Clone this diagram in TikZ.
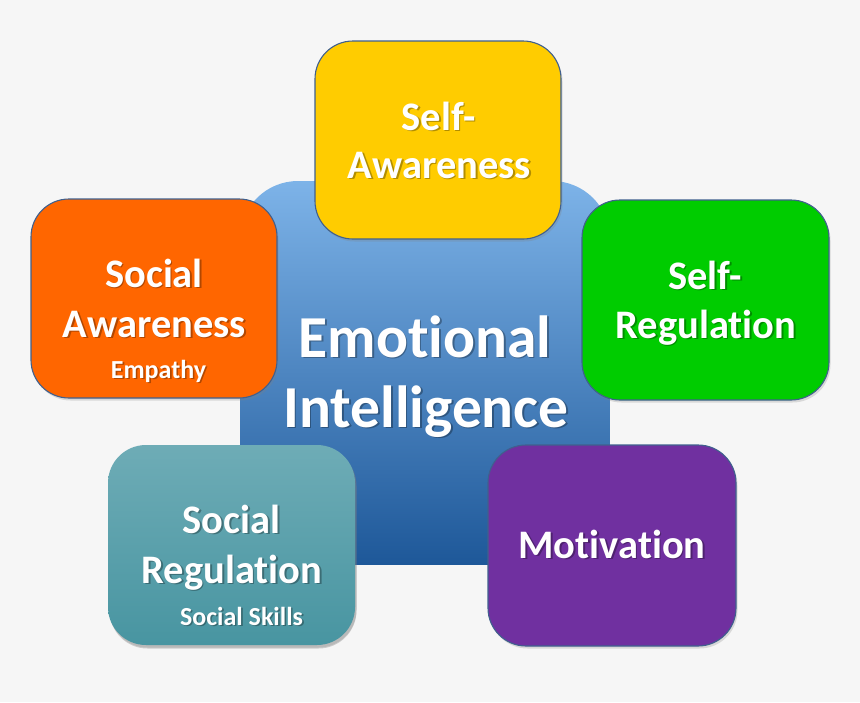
\documentclass[tikz,border=0pt]{standalone}
\usepackage{fontspec}
\setmainfont{Carlito}[Ligatures={NoCommon}]
\usetikzlibrary{shadows}
\definecolor{bgc}{HTML}{F6F6F6}
\definecolor{bordc}{HTML}{40608E}
\definecolor{yelc}{HTML}{FFCC00}
\definecolor{orac}{HTML}{FF6600}
\definecolor{grec}{HTML}{00CC00}
\definecolor{purc}{HTML}{7030A0}
\definecolor{teat}{HTML}{6EACB6}
\definecolor{teab}{HTML}{4895A1}
\definecolor{blut}{HTML}{7DB3E8}
\definecolor{blum}{HTML}{2F84D8}
\definecolor{blub}{HTML}{1E5899}
\newcommand\fsz[1]{\fontsize{#1}{#1}\selectfont}
\newcommand\shtext[4]{%
  \node[txtsh, font=\bfseries\fsz{#3}, xshift=1.6pt, yshift=-1.6pt] at (#2) {#4};
  \node[txt, font=\bfseries\fsz{#3}] (#1) at (#2) {#4};}
\tikzset{
  x=1pt, y=-1pt,
  card/.style={draw=bordc, line width=1.1pt, rounded corners=38pt, inner sep=0pt,
    drop shadow={opacity=0.25, shadow xshift=1.5pt, shadow yshift=-2.5pt}},
  txt/.style={anchor=base, text=white, inner sep=0pt},
  txtsh/.style={anchor=base, text=black, opacity=0.3, inner sep=0pt}
}
\begin{document}
\begin{tikzpicture}
\useasboundingbox (0,0) rectangle (860,702);
\fill[bgc] (0,0) rectangle (860,702);
% central box
\begin{scope}
  \clip[rounded corners=58pt] (240,181) rectangle (610,680);
  \shade[top color=blut, middle color=blum, bottom color=blub] (240,181) rectangle (610,564);
\end{scope}
\shtext{emo}{425,357}{59.5}{Emotional}
\shtext{intel}{426,427}{59.5}{Intelligence}
% cards
\node[card, fill=yelc, minimum width=246pt, minimum height=198pt] (selfaw) at (438,140) {};
\node[card, fill=orac, minimum width=246pt, minimum height=199pt] (socaw) at (154,298.5) {};
\node[card, fill=grec, minimum width=247pt, minimum height=200pt] (selfreg) at (705.5,300) {};
\node[card, draw=none, top color=teat, bottom color=teab, minimum width=247pt, minimum height=200pt,
  drop shadow={opacity=0.35, shadow xshift=1.5pt, shadow yshift=-3.5pt}] (socreg) at (231.5,545) {};
\node[card, fill=purc, minimum width=248pt, minimum height=201pt] (motiv) at (612,545.5) {};
% texts
\shtext{t1}{438.5,130}{40.5}{Self-}
\shtext{t2}{439.5,178}{40.5}{Awareness}
\shtext{t3}{154,287}{40.5}{Social}
\shtext{t4}{154.5,337}{40.5}{Awareness}
\shtext{t5}{158.5,378}{26}{Empathy}
\shtext{t6}{705,289}{40.5}{Self-}
\shtext{t7}{706,338}{40.5}{Regulation}
\shtext{t8}{231.5,533}{40.5}{Social}
\shtext{t9}{232,583}{40.5}{Regulation}
\shtext{t10}{241.5,625}{26}{Social Skills}
\shtext{t11}{612,558}{40.5}{Motivation}
\end{tikzpicture}
\end{document}
